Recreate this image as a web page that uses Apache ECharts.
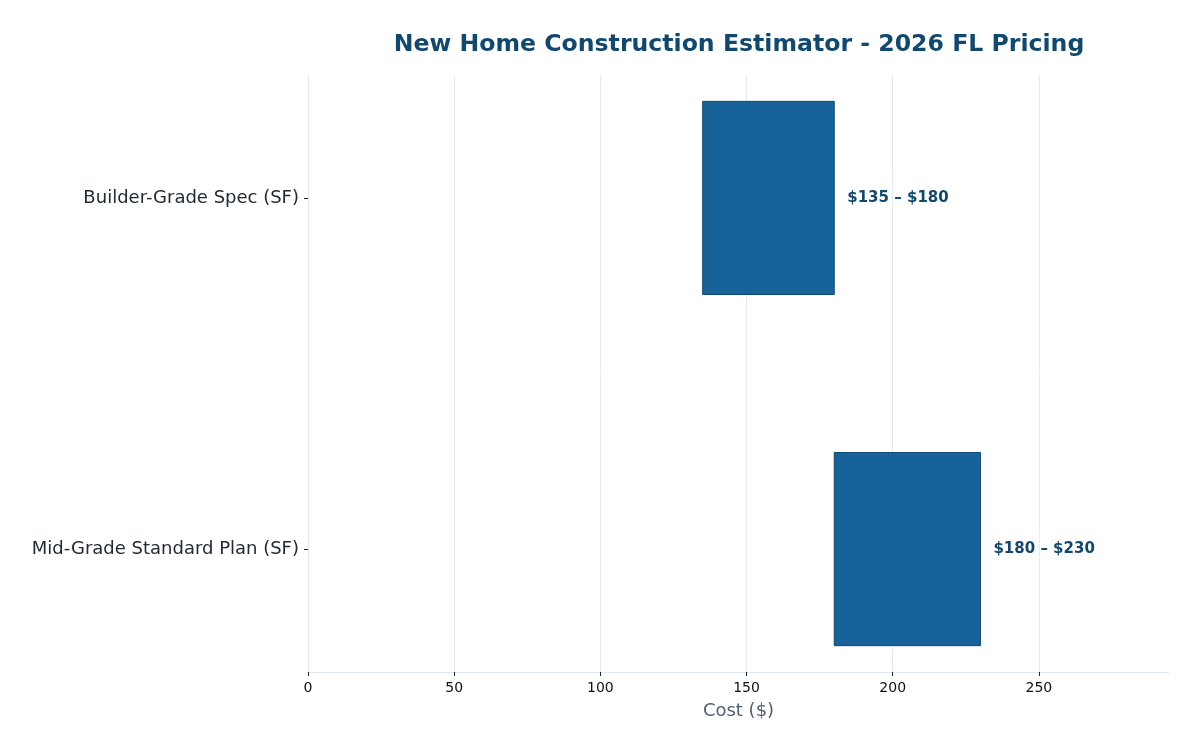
<!DOCTYPE html>
<html>
<head>
<meta charset="utf-8">
<script src="https://cdn.jsdelivr.net/npm/echarts@6/dist/echarts.min.js"></script>
<style>html,body{margin:0;padding:0;background:#fff}#c{width:1200px;height:750px}</style>
</head>
<body>
<div id="c"></div>
<script>
const categories = ['Builder-Grade Spec (SF)', 'Mid-Grade Standard Plan (SF)'];
const lowValues = [135, 180];
const highValues = [180, 230];
const barLabels = ['$135 – $180', '$180 – $230'];
const xTickValues = [0, 50, 100, 150, 200, 250];

const chart = echarts.init(document.getElementById('c'), null, {renderer: 'canvas'});
const font = 'DejaVu Sans';
const barHalf = 0.275;

chart.setOption({
  animation: false,
  backgroundColor: '#ffffff',
  title: {
    text: 'New Home Construction Estimator - 2026 FL Pricing',
    left: 734, top: 28, textAlign: 'center',
    textStyle: {fontFamily: font, fontSize: 23.6, fontWeight: 'bold', color: '#114870'}
  },
  grid: {left: 308, right: 31, top: 75, bottom: 78},
  xAxis: {
    type: 'value', min: 0, max: 294.5, interval: 50,
    name: 'Cost ($)', nameLocation: 'middle', nameGap: 30,
    nameTextStyle: {fontFamily: font, fontSize: 18, color: '#4f6075'},
    axisLine: {show: true, onZero: false, lineStyle: {color: '#dce7f1', width: 1}},
    axisTick: {show: true, length: 4, lineStyle: {color: '#222222'}, customValues: xTickValues},
    axisLabel: {fontFamily: font, fontSize: 14, color: '#111111', margin: 9, customValues: xTickValues},
    splitLine: {show: true, lineStyle: {color: '#e3ecf4', width: 1}}
  },
  yAxis: {
    type: 'value', inverse: true, min: -0.35, max: 1.35,
    axisLine: {show: false, onZero: false},
    axisTick: {show: true, length: 4, lineStyle: {color: '#222222'}, customValues: [0, 1]},
    axisLabel: {
      fontFamily: font, fontSize: 18, color: '#222a35', margin: 9,
      padding: [3, 0, 0, 0],
      customValues: [0, 1],
      formatter: v => categories[Math.round(v)] || ''
    },
    splitLine: {show: false}
  },
  series: [{
    type: 'custom',
    data: categories.map((c, i) => [lowValues[i], highValues[i], i]),
    encode: {x: [0, 1], y: 2},
    renderItem: function (params, api) {
      const lo = api.value(0), hi = api.value(1), idx = api.value(2);
      const p1 = api.coord([lo, idx - barHalf]);
      const p2 = api.coord([hi, idx + barHalf]);
      const pc = api.coord([hi, idx]);
      return {
        type: 'group',
        children: [{
          type: 'rect',
          shape: {x: p1[0], y: p1[1], width: p2[0] - p1[0], height: p2[1] - p1[1]},
          style: {fill: '#176299', stroke: '#0f4a73', lineWidth: 1}
        }, {
          type: 'text',
          x: pc[0] + 13, y: pc[1],
          style: {
            text: barLabels[idx], fontFamily: font, fontSize: 15, fontWeight: 'bold',
            fill: '#114870', verticalAlign: 'middle', align: 'left'
          }
        }]
      };
    }
  }]
});
</script>
</body>
</html>
